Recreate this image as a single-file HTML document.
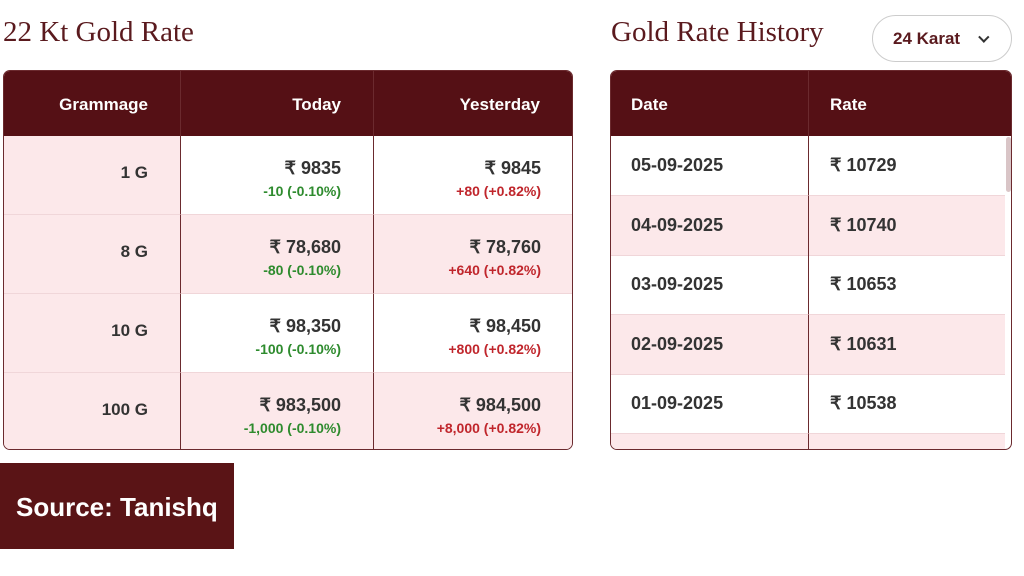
<!DOCTYPE html>
<html><head><meta charset="utf-8"><style>
*{margin:0;padding:0;box-sizing:border-box}
body{width:1024px;height:576px;background:#fff;position:relative;overflow:hidden;font-family:"Liberation Sans",sans-serif;color:#3a3a3a}
.abs{position:absolute}
.title{font-family:"Liberation Serif",serif;font-size:29px;color:#5a1a1e;top:16px}
.tbl{border:1px solid #6b2a2e;border-radius:7px;overflow:hidden}
.hd{background:#551015;color:#fff;font-weight:bold;font-size:17px}
.cell{position:absolute;border-right:1px solid #6b2a2e;border-bottom:1px solid #f0d6d9}
.pk{background:#fce8ea}
.r{text-align:right}
.v{font-size:18px;font-weight:bold;color:#333}
.up{font-size:14px;font-weight:bold;color:#c0262c}
.dn{font-size:14px;font-weight:bold;color:#2e8b2e}
</style></head><body>
<div class="abs title" style="left:3px">22 Kt Gold Rate</div>
<div class="abs title" style="left:611px">Gold Rate History</div>
<div class="abs" style="left:872px;top:15px;width:140px;height:47px;border:1px solid #ccc;border-radius:24px;font-size:17px;font-weight:bold;color:#5a1a1e;padding:13px 0 0 20px">24 Karat <span style="display:inline-block;margin-left:12px;width:8px;height:8px;border-right:2px solid #333;border-bottom:2px solid #333;transform:rotate(45deg) translateY(-4px)"></span></div>

<div class="abs tbl" style="left:3px;top:70px;width:570px;height:380px" id="lt"></div>
<div class="abs tbl" style="left:610px;top:70px;width:402px;height:380px" id="rt"></div>

<div class="abs" style="left:0;top:463px;width:234px;height:86px;background:#5a1416;color:#fff;font-weight:bold;font-size:26px;padding:29px 0 0 16px">Source: Tanishq</div>
<script>
const grams=["1 G","8 G","10 G","100 G"];
const today=["₹ 9835","₹ 78,680","₹ 98,350","₹ 983,500"];
const todayChg=["-10 (-0.10%)","-80 (-0.10%)","-100 (-0.10%)","-1,000 (-0.10%)"];
const yest=["₹ 9845","₹ 78,760","₹ 98,450","₹ 984,500"];
const yestChg=["+80 (+0.82%)","+640 (+0.82%)","+800 (+0.82%)","+8,000 (+0.82%)"];
const dates=["05-09-2025","04-09-2025","03-09-2025","02-09-2025","01-09-2025",""];
const rates=["₹ 10729","₹ 10740","₹ 10653","₹ 10631","₹ 10538",""];
function cell(p,x,y,w,h,cls,html,name){const d=document.createElement('div');d.className='cell '+cls;
d.style.left=x+'px';d.style.top=y+'px';d.style.width=w+'px';d.style.height=h+'px';d.innerHTML=html;


p.appendChild(d);return d;}
const lt=document.getElementById('lt');
const cx=[0,177,370],cw=[177,193,200],rp=[32,32,33];
const hs=["Grammage","Today","Yesterday"];
hs.forEach((t,i)=>{cell(lt,cx[i],0,cw[i],65,'hd r','<div style="padding:24px '+rp[i]+'px 0 0">'+t+'</div>','header-'+t.toLowerCase()).style.borderBottom='none';});
grams.forEach((g,r)=>{const y=65+r*79;const pink=(r%2==1);
cell(lt,0,y,177,79,'pk r','<div class="v" style="padding:27px 32px 0 0;font-size:17px">'+g+'</div>','grammage-'+r);
cell(lt,177,y,193,79,(pink?'pk ':'')+'r','<div class="v" style="padding:22px 32px 0 0">'+today[r]+'</div><div class="dn" style="padding:4px 32px 0 0">'+todayChg[r]+'</div>','today-'+r);
cell(lt,370,y,200,79,(pink?'pk ':'')+'r','<div class="v" style="padding:22px 33px 0 0">'+yest[r]+'</div><div class="up" style="padding:4px 33px 0 0">'+yestChg[r]+'</div>','yesterday-'+r).style.borderRight='none';});
const rt=document.getElementById('rt');
cell(rt,0,0,198,65,'hd','<div style="padding:24px 0 0 20px">Date</div>','header-date').style.borderBottom='none';
const h2=cell(rt,198,0,204,65,'hd','<div style="padding:24px 0 0 21px">Rate</div>','header-rate');h2.style.borderBottom='none';h2.style.borderRight='none';
dates.forEach((d,r)=>{const y=65+r*59.5;const pink=(r%2==1);
cell(rt,0,y,198,60,pink?'pk':'','<div class="v" style="padding:19px 0 0 20px">'+d+'</div>','date-'+r);
cell(rt,198,y,196,60,pink?'pk':'','<div class="v" style="padding:19px 0 0 21px">'+rates[r]+'</div>','rate-'+r).style.borderRight='none';});
const sb=document.createElement('div');sb.className='abs';sb.style.cssText='left:395px;top:66px;width:5px;height:55px;background:#d9c5c7;border-radius:3px';


rt.appendChild(sb);
</script>
</body></html>
